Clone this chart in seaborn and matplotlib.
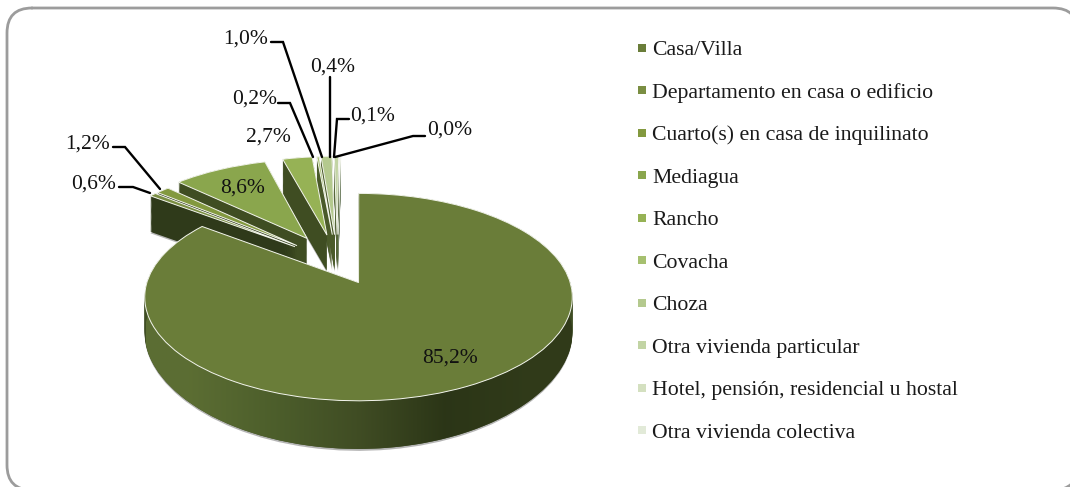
import numpy as np
import seaborn as sns
import matplotlib
matplotlib.use("Agg")
import matplotlib.pyplot as plt
from matplotlib.patches import FancyBboxPatch, PathPatch
from matplotlib.path import Path
from matplotlib.transforms import Transform

categories = ["Casa/Villa", "Departamento en casa o edificio", "Cuarto(s) en casa de inquilinato",
              "Mediagua", "Rancho", "Covacha", "Choza", "Otra vivienda particular",
              "Hotel, pensión, residencial u hostal", "Otra vivienda colectiva"]
values = [85.2, 0.6, 1.2, 8.6, 2.7, 0.2, 1.0, 0.4, 0.1, 0.0]
value_labels = ["85,2%", "0,6%", "1,2%", "8,6%", "2,7%", "0,2%", "1,0%", "0,4%", "0,1%", "0,0%"]
explode = [0.23, 0.27, 0.27, 0.3, 0.3, 0.3, 0.3, 0.3, 0.3, 0.3]
face_colors = ["#6a7d39", "#7a8e42", "#83993f", "#8aa64d", "#96b255",
               "#a6c06f", "#b4c98e", "#c2d4a4", "#d4e0c0", "#e2ead8"]
wall_colors = ["#3f4d24", "#2f3a1a", "#2f3a1a", "#3f4d22", "#3f4d22",
               "#4a5a2a", "#4a5a2a", "#55663a", "#77866a", "#9aa68f"]

# back to front, so the nearer slices hide the walls behind them
draw_order = [9, 8, 7, 6, 5, 4, 3, 2, 1, 0]

# left edge and centre of the label text, then its leader (pixels), None = no leader
label_layout = {
    "85,2%": ((422, 358), None),
    "0,6%": ((71, 184), [(119, 187), (133, 187), (150, 193)]),
    "1,2%": ((65, 144), [(113, 147), (125, 147), (160, 189)]),
    "8,6%": ((220, 188), None),
    "2,7%": ((246, 137), None),
    "0,2%": ((232, 99), [(278, 103), (290, 103), (313, 157)]),
    "1,0%": ((223, 39), [(271, 42), (283, 42), (322, 157)]),
    "0,4%": ((310, 67), [(330, 77), (330, 157)]),
    "0,1%": ((350, 116), [(349, 119), (337, 119), (334, 157)]),
    "0,0%": ((427, 130), [(425, 136), (413, 136), (335, 157)]),
}


class Perspective(Transform):
    # flat pie coordinates to pixels, z is how far down the slice wall
    input_dims = output_dims = 2

    def __init__(self, z=0.0):
        super().__init__()
        self.z = z

    def transform_non_affine(self, xy):
        xy = np.asarray(xy)
        u, v = xy[:, 0], xy[:, 1]
        s = 1 / (1 + 0.14 * v)
        px = 360 + 211.5 * u * s
        py = 282 - 101.5 * v * s + self.z * (36 + 12 * np.minimum(v, 0) ** 2)
        return np.column_stack([px, py])


sns.set_theme(style="white")
plt.rcParams["font.family"] = ["Liberation Serif", "DejaVu Serif"]

fig = plt.figure(figsize=(10.70, 4.87), dpi=100)
ax = fig.add_axes([0, 0, 1, 1])


def draw_layer(z, colors, base=0.0, **props):
    wedges, _ = ax.pie(values, explode=explode, center=(-0.11, 0.2), startangle=90,
                       counterclock=False, colors=colors, wedgeprops=props)
    for rank, i in enumerate(draw_order):
        wedges[i].set_transform(Perspective(z) + ax.transData)
        wedges[i].set_zorder(10 + rank * 10 + base)


# soft edge under the big slice, then the stacked walls
draw_layer(1.04, ["#b5b5b5"] * 10, base=0.0, linewidth=0)
for z in np.linspace(1, 0, 40):
    draw_layer(z, wall_colors, base=1 + (1 - z), linewidth=0.4, edgecolor="none")
draw_layer(0, face_colors, base=5, linewidth=0.7, edgecolor="#f4f6ee")

ax.set_aspect("auto")
ax.set_xlim(0, 1070)
ax.set_ylim(487, 0)
ax.axis("off")

# horizontal shading of the big slice wall, cut to its outline
theta = np.deg2rad(np.linspace(90, 90 - 360 * values[0] / 100, 400))
ang = np.deg2rad(90 - 180 * values[0] / 100)
rim = np.column_stack([-0.11 + explode[0] * np.cos(ang) + np.cos(theta),
                       0.2 + explode[0] * np.sin(ang) + np.sin(theta)])
rim = rim[rim[:, 1] < 0.2]
outline = np.vstack([Perspective(0).transform(rim), Perspective(1).transform(rim)[::-1]])
wall_clip = PathPatch(Path(outline), transform=ax.transData, facecolor="none", edgecolor="none")
ax.add_patch(wall_clip)
shade = np.array([[0.36, 0.43, 0.20], [0.30, 0.37, 0.17], [0.25, 0.30, 0.14],
                  [0.17, 0.21, 0.09], [0.19, 0.23, 0.10]])
img = ax.imshow(shade[np.newaxis, :, :], extent=(146, 573, 490, 280), aspect="auto",
                interpolation="bilinear", zorder=104)
img.set_clip_path(wall_clip)
ax.set_xlim(0, 1070)
ax.set_ylim(487, 0)

# frame runs off the canvas, curves get bent when clipped so flatten it first
box = FancyBboxPatch((7, 8), 1071, 482, boxstyle="round,pad=0,rounding_size=25")
frame = box.get_path().to_polygons(closed_only=False)[0]
ax.plot(frame[:, 0], frame[:, 1], color="#9c9c9c", linewidth=2, zorder=1)

for text in value_labels:
    pos, leader = label_layout[text]
    ax.text(pos[0], pos[1], text, fontsize=15.5, color="#111111", va="center", ha="left", zorder=300)
    if leader:
        ax.plot(*zip(*leader), color="black", linewidth=1.7, zorder=290, solid_joinstyle="miter")

# legend: own entries, the source spaces them wider than a matplotlib legend likes
for i, name in enumerate(categories):
    y = 50.5 + i * 42.5
    ax.scatter([642], [y - 3], marker="s", s=33, color=face_colors[i], linewidths=0, zorder=300)
    ax.text(652, y, name, fontsize=15.7, color="#1a1a1a", va="center", ha="left", zorder=300)

fig.savefig("out.png", dpi=100)
